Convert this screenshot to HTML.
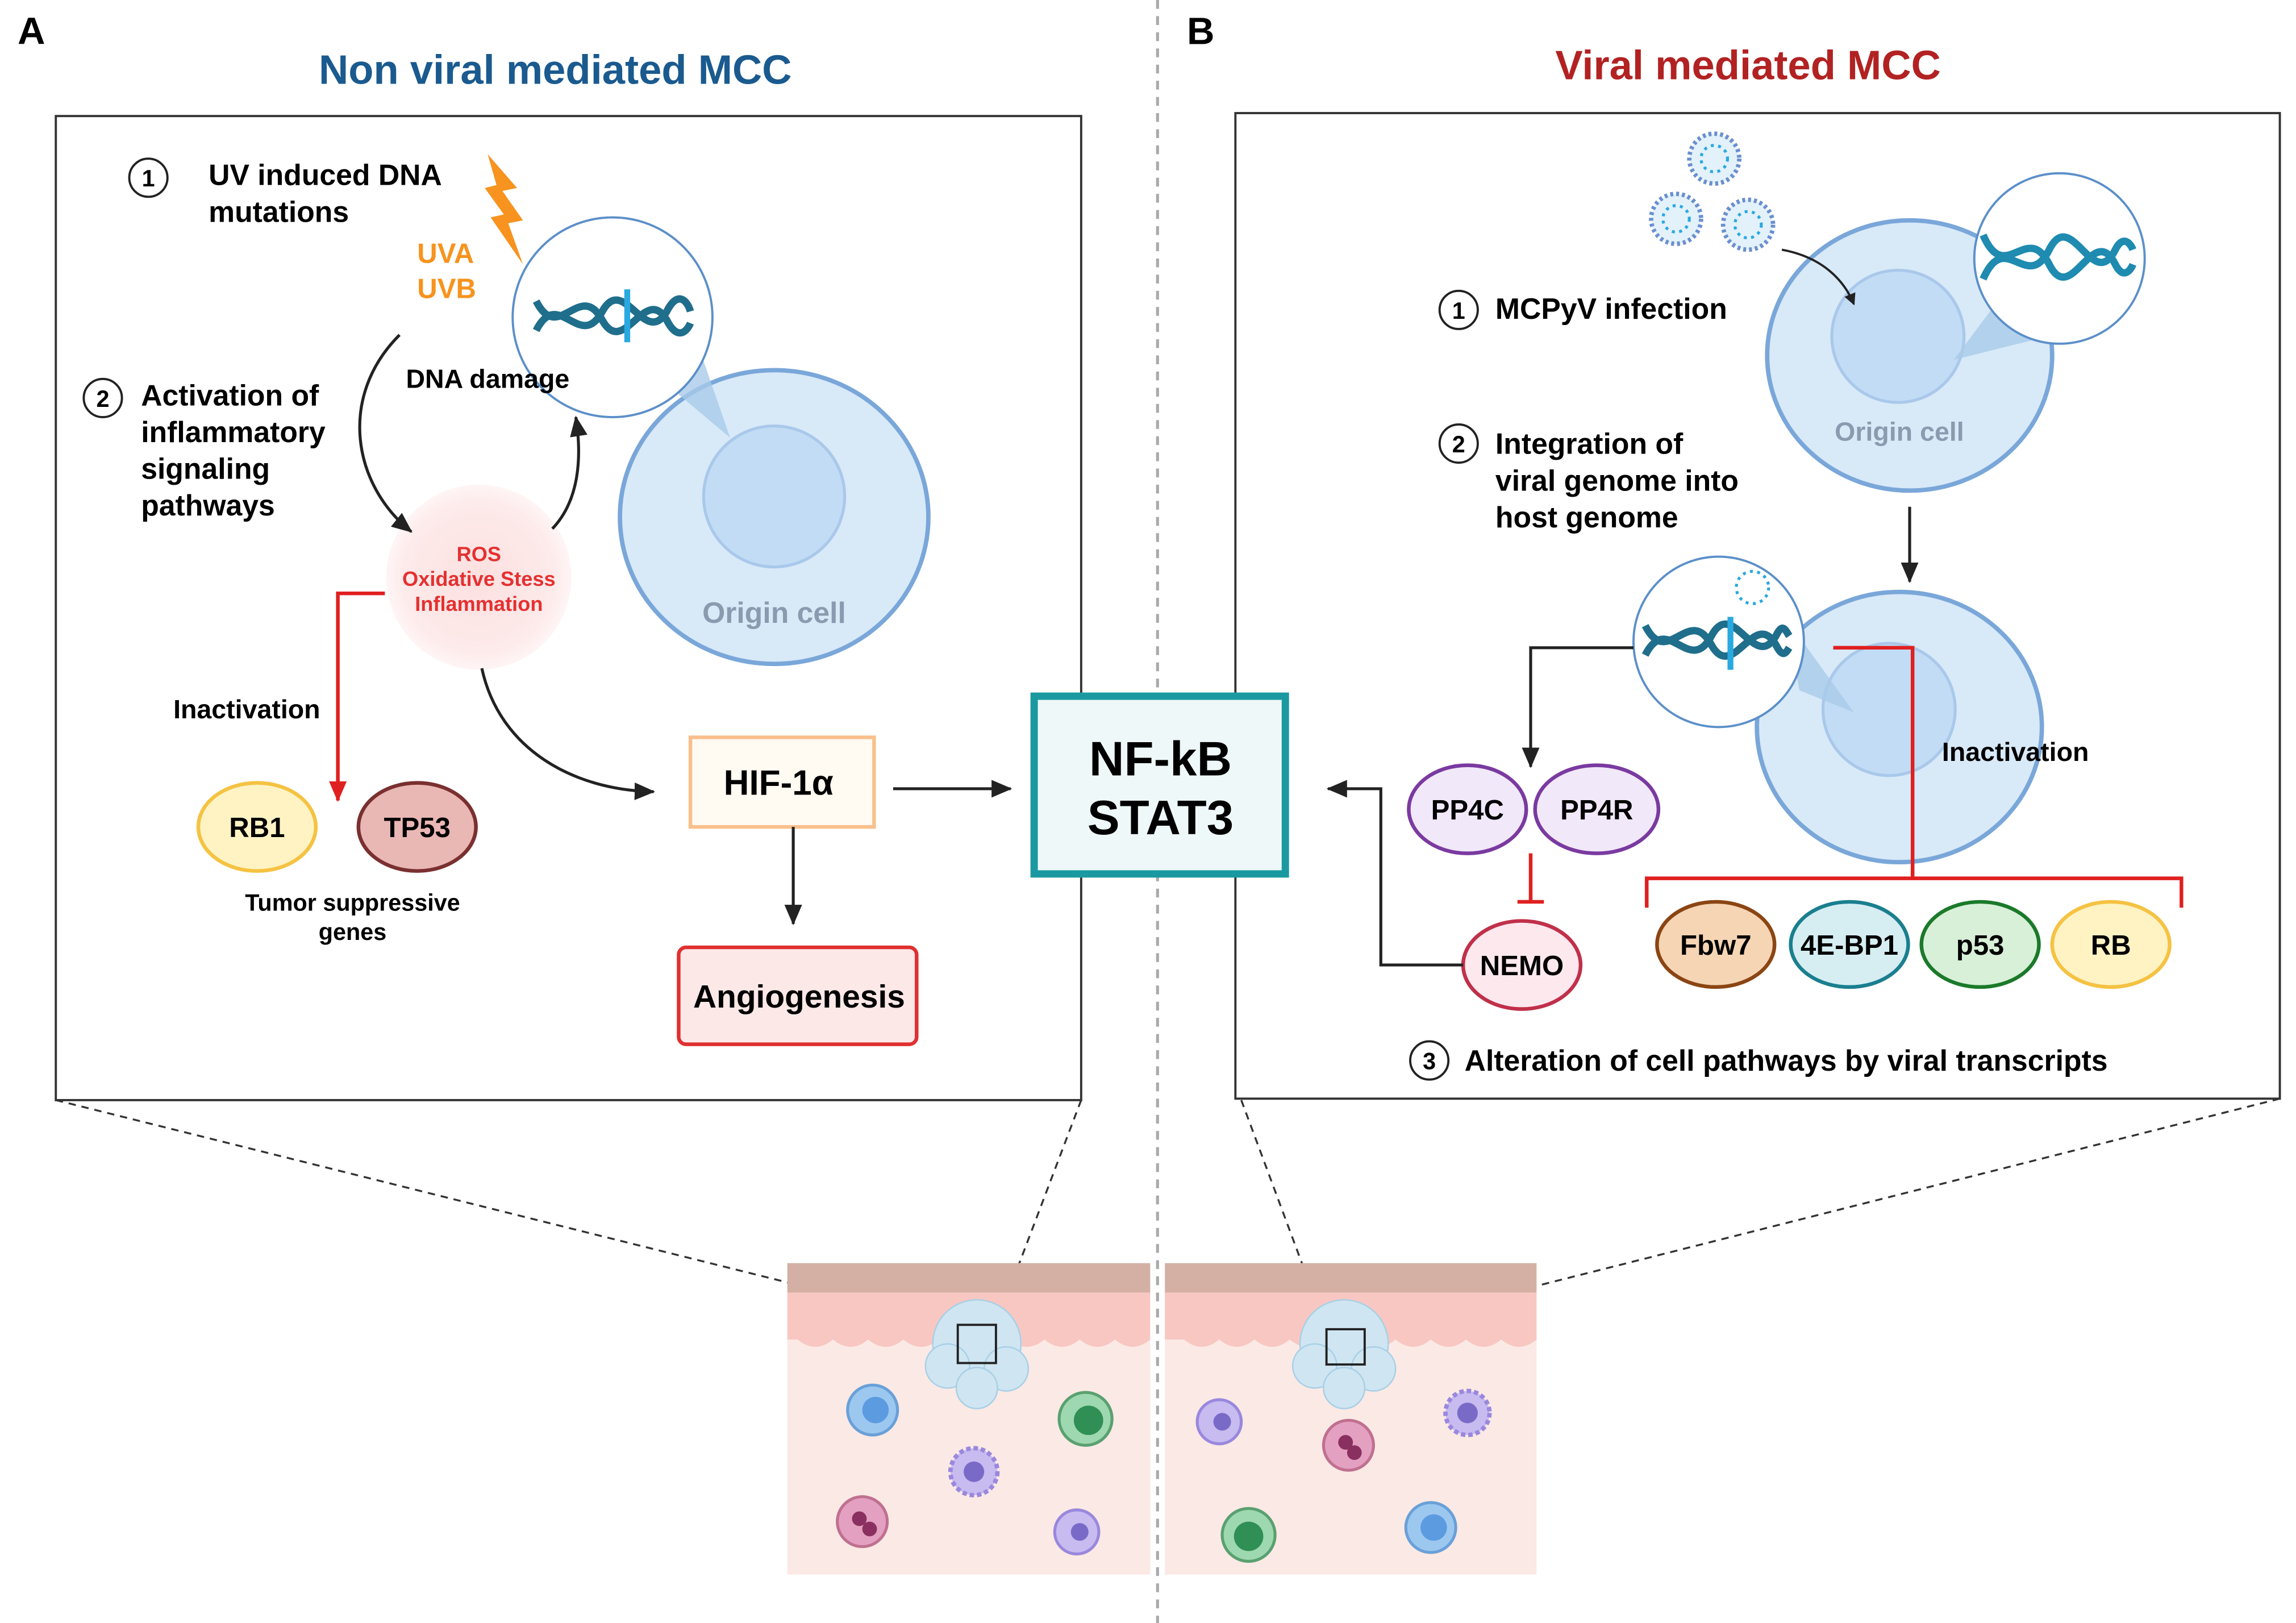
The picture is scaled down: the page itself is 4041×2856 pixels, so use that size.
<!DOCTYPE html>
<html><head><meta charset="utf-8"><style>
html,body{margin:0;padding:0;background:#fff;}
svg{display:block;}
text{font-family:"Liberation Sans",sans-serif;font-weight:bold;}
</style></head><body>
<svg width="4041" height="2856" viewBox="0 0 1563 1105" preserveAspectRatio="none" xmlns="http://www.w3.org/2000/svg">
<defs>
<marker id="ab" markerWidth="8" markerHeight="8" refX="7" refY="4" orient="auto" markerUnits="userSpaceOnUse"><path d="M0,0 L8,4 L0,8 z" fill="#222"/></marker>
<marker id="ab2" markerWidth="14" markerHeight="12" refX="13" refY="6" orient="auto" markerUnits="userSpaceOnUse"><path d="M0,0 L14,6 L0,12 z" fill="#222"/></marker>
<marker id="ar" markerWidth="14" markerHeight="12" refX="13" refY="6" orient="auto" markerUnits="userSpaceOnUse"><path d="M0,0 L14,6 L0,12 z" fill="#e02020"/></marker>
<radialGradient id="ros"><stop offset="0" stop-color="#fde0e0"/><stop offset="0.8" stop-color="#fdeaea"/><stop offset="1" stop-color="#fff5f5"/></radialGradient>
</defs>
<rect width="1563" height="1105" fill="#fff"/>
<line x1="788" y1="0" x2="788" y2="1105" stroke="#aaa" stroke-width="2" stroke-dasharray="6,5"/>
<text x="12" y="30" font-size="26">A</text>
<text x="808" y="30" font-size="26">B</text>
<text x="378" y="57" font-size="28" fill="#1a5a8f" text-anchor="middle">Non viral mediated MCC</text>
<text x="1190" y="54" font-size="28" fill="#b22222" text-anchor="middle">Viral mediated MCC</text>
<rect x="38" y="79" width="698" height="670" fill="none" stroke="#333" stroke-width="1.5"/>
<rect x="841" y="77" width="711" height="671" fill="none" stroke="#333" stroke-width="1.5"/>

<!-- Left panel -->
<circle cx="101" cy="121" r="13" fill="none" stroke="#222" stroke-width="1.5"/><text x="101" y="127" font-size="16" text-anchor="middle" font-weight="normal">1</text>
<text x="142" y="126" font-size="20">UV induced DNA</text>
<text x="142" y="151" font-size="20">mutations</text>
<path d="M332,105 L352,128 L342,130 L356,150 L346,152 L356,180 L334,148 L343,146 L330,128 L338,126 z" fill="#f7931e"/>
<text x="284" y="179" font-size="19" fill="#f7931e">UVA</text>
<text x="284" y="203" font-size="19" fill="#f7931e">UVB</text>
<ellipse cx="527" cy="352" rx="105" ry="100" fill="#d8e9f8" stroke="#7aa7d9" stroke-width="3"/>
<circle cx="527" cy="338" r="48" fill="#c2dcf5" stroke="#a9c8ea" stroke-width="2"/>
<path d="M440,250 L497,298 L470,220 z" fill="#a9cbe8" opacity="0.8"/>
<circle cx="417" cy="216" r="68" fill="#fff" stroke="#5b8fc9" stroke-width="1.5"/>
<path d="M365,225 C380,195 395,240 410,212 C425,185 440,240 455,210 C462,198 468,205 470,212" fill="none" stroke="#1f6e8c" stroke-width="5"/>
<path d="M365,205 C380,235 395,190 410,218 C425,245 440,190 455,220 C462,232 468,225 470,220" fill="none" stroke="#1f6e8c" stroke-width="5"/>
<line x1="427" y1="197" x2="427" y2="233" stroke="#29a9e0" stroke-width="4"/>
<text x="527" y="424" font-size="20" fill="#8a9bb0" text-anchor="middle">Origin cell</text>
<text x="332" y="264" font-size="18" text-anchor="middle">DNA damage</text>
<circle cx="70" cy="271" r="13" fill="none" stroke="#222" stroke-width="1.5"/><text x="70" y="277" font-size="16" text-anchor="middle" font-weight="normal">2</text>
<text x="96" y="276" font-size="20">Activation of</text>
<text x="96" y="301" font-size="20">inflammatory</text>
<text x="96" y="326" font-size="20">signaling</text>
<text x="96" y="351" font-size="20">pathways</text>
<circle cx="326" cy="393" r="63" fill="url(#ros)"/>
<text x="326" y="382" font-size="14" fill="#e53030" text-anchor="middle">ROS</text>
<text x="326" y="399" font-size="14" fill="#e53030" text-anchor="middle">Oxidative Stess</text>
<text x="326" y="416" font-size="14" fill="#e53030" text-anchor="middle">Inflammation</text>
<path d="M272,228 C230,270 240,330 280,362" fill="none" stroke="#222" stroke-width="2" marker-end="url(#ab2)"/>
<path d="M376,360 C395,340 396,310 392,284" fill="none" stroke="#222" stroke-width="2" marker-end="url(#ab2)"/>
<polyline points="262,404 230,404 230,545" fill="none" stroke="#e02020" stroke-width="2.5" marker-end="url(#ar)"/>
<text x="168" y="489" font-size="18" text-anchor="middle">Inactivation</text>
<ellipse cx="175" cy="563" rx="40" ry="30" fill="#fff3c4" stroke="#f5c242" stroke-width="2.5"/>
<text x="175" y="570" font-size="19" text-anchor="middle">RB1</text>
<ellipse cx="284" cy="563" rx="40" ry="30" fill="#e9b7b4" stroke="#7a3030" stroke-width="2.5"/>
<text x="284" y="570" font-size="19" text-anchor="middle">TP53</text>
<text x="240" y="620" font-size="16" text-anchor="middle">Tumor suppressive</text>
<text x="240" y="640" font-size="16" text-anchor="middle">genes</text>
<path d="M328,455 C340,510 390,538 445,539" fill="none" stroke="#222" stroke-width="2" marker-end="url(#ab2)"/>
<rect x="470" y="502" width="125" height="61" fill="#fffaf2" stroke="#f9c08c" stroke-width="2.5"/>
<text x="530" y="541" font-size="24" text-anchor="middle">HIF-1α</text>
<line x1="608" y1="537" x2="688" y2="537" stroke="#222" stroke-width="2" marker-end="url(#ab2)"/>
<line x1="540" y1="563" x2="540" y2="629" stroke="#222" stroke-width="2" marker-end="url(#ab2)"/>
<rect x="462" y="645" width="162" height="66" rx="5" fill="#fde8e8" stroke="#e03030" stroke-width="2.5"/>
<text x="544" y="686" font-size="22" text-anchor="middle">Angiogenesis</text>

<!-- center -->
<rect x="704" y="474" width="171" height="121" fill="#eef8f8" stroke="#1a9aa0" stroke-width="5"/>
<text x="790" y="528" font-size="33" text-anchor="middle">NF-kB</text>
<text x="790" y="568" font-size="33" text-anchor="middle">STAT3</text>

<!-- Right panel -->
<g fill="#e3f1fa" stroke="#6a8fd0" stroke-width="3" stroke-dasharray="2,2">
<circle cx="1167" cy="108" r="17"/><circle cx="1141" cy="149" r="17"/><circle cx="1190" cy="153" r="17"/></g>
<g fill="none" stroke="#29a9e0" stroke-width="2" stroke-dasharray="2,3">
<circle cx="1167" cy="108" r="9"/><circle cx="1141" cy="149" r="9"/><circle cx="1190" cy="153" r="9"/></g>
<ellipse cx="1300" cy="242" rx="97" ry="92" fill="#d8e9f8" stroke="#7aa7d9" stroke-width="3"/>
<circle cx="1292" cy="229" r="45" fill="#c2dcf5" stroke="#a9c8ea" stroke-width="2"/>
<path d="M1213,170 C1240,175 1255,190 1262,207" fill="none" stroke="#222" stroke-width="1.5" marker-end="url(#ab)"/>
<path d="M1330,245 L1360,205 L1390,230 z" fill="#a9cbe8" opacity="0.8"/>
<circle cx="1402" cy="176" r="58" fill="#fff" stroke="#5b8fc9" stroke-width="1.5"/>
<path d="M1350,190 C1365,155 1380,200 1395,170 C1410,140 1425,200 1440,170 C1445,160 1450,165 1452,170" fill="none" stroke="#1f8bb0" stroke-width="5"/>
<path d="M1350,160 C1365,195 1380,150 1395,180 C1410,210 1425,150 1440,180 C1445,190 1450,185 1452,180" fill="none" stroke="#1f8bb0" stroke-width="5"/>
<text x="1293" y="300" font-size="18" fill="#8a9bb0" text-anchor="middle">Origin cell</text>
<circle cx="993" cy="211" r="13" fill="none" stroke="#222" stroke-width="1.5"/><text x="993" y="217" font-size="16" text-anchor="middle" font-weight="normal">1</text>
<text x="1018" y="217" font-size="20">MCPyV infection</text>
<circle cx="993" cy="302" r="13" fill="none" stroke="#222" stroke-width="1.5"/><text x="993" y="308" font-size="16" text-anchor="middle" font-weight="normal">2</text>
<text x="1018" y="309" font-size="20">Integration of</text>
<text x="1018" y="334" font-size="20">viral genome into</text>
<text x="1018" y="359" font-size="20">host genome</text>
<line x1="1300" y1="345" x2="1300" y2="396" stroke="#222" stroke-width="2" marker-end="url(#ab2)"/>
<ellipse cx="1293" cy="495" rx="97" ry="92" fill="#d8e9f8" stroke="#7aa7d9" stroke-width="3"/>
<circle cx="1286" cy="483" r="45" fill="#c2dcf5" stroke="#a9c8ea" stroke-width="2"/>
<path d="M1215,420 L1262,485 L1225,470 z" fill="#a9cbe8" opacity="0.8"/>
<circle cx="1170" cy="437" r="58" fill="#fff" stroke="#5b8fc9" stroke-width="1.5"/>
<path d="M1120,446 C1135,416 1150,461 1165,433 C1180,405 1195,461 1210,431 C1214,424 1216,430 1218,433" fill="none" stroke="#1f6e8c" stroke-width="5"/>
<path d="M1120,426 C1135,456 1150,411 1165,439 C1180,466 1195,411 1210,441 C1214,448 1216,444 1218,441" fill="none" stroke="#1f6e8c" stroke-width="5"/>
<line x1="1178" y1="420" x2="1178" y2="456" stroke="#29a9e0" stroke-width="4"/>
<circle cx="1193" cy="400" r="11" fill="none" stroke="#29a9e0" stroke-width="2" stroke-dasharray="2,3"/>
<text x="1372" y="518" font-size="18" text-anchor="middle">Inactivation</text>
<polyline points="1248,441 1302,441 1302,598" fill="none" stroke="#e02020" stroke-width="2.5"/>
<polyline points="1121,618 1121,598 1485,598 1485,618" fill="none" stroke="#e02020" stroke-width="2.5"/>
<ellipse cx="1168" cy="643" rx="40" ry="29" fill="#f6d5b5" stroke="#8b4513" stroke-width="2.5"/>
<text x="1168" y="650" font-size="19" text-anchor="middle">Fbw7</text>
<ellipse cx="1259" cy="643" rx="40" ry="29" fill="#d6eef2" stroke="#1a7f8f" stroke-width="2.5"/>
<text x="1259" y="650" font-size="19" text-anchor="middle">4E-BP1</text>
<ellipse cx="1348" cy="643" rx="40" ry="29" fill="#d8f0d8" stroke="#1b7a2a" stroke-width="2.5"/>
<text x="1348" y="650" font-size="19" text-anchor="middle">p53</text>
<ellipse cx="1437" cy="643" rx="40" ry="29" fill="#fff3c4" stroke="#f5c242" stroke-width="2.5"/>
<text x="1437" y="650" font-size="19" text-anchor="middle">RB</text>
<polyline points="1112,441 1042,441 1042,522" fill="none" stroke="#222" stroke-width="2" marker-end="url(#ab2)"/>
<ellipse cx="999" cy="551" rx="40" ry="30" fill="#f1e8fa" stroke="#7a3aa0" stroke-width="2.5"/>
<text x="999" y="558" font-size="19" text-anchor="middle">PP4C</text>
<ellipse cx="1087" cy="551" rx="42" ry="30" fill="#f1e8fa" stroke="#7a3aa0" stroke-width="2.5"/>
<text x="1087" y="558" font-size="19" text-anchor="middle">PP4R</text>
<line x1="1042" y1="581" x2="1042" y2="614" stroke="#e02020" stroke-width="2.5"/>
<line x1="1033" y1="614" x2="1051" y2="614" stroke="#e02020" stroke-width="2.5"/>
<ellipse cx="1036" cy="657" rx="40" ry="30" fill="#fde8ee" stroke="#c0304a" stroke-width="2.5"/>
<text x="1036" y="664" font-size="19" text-anchor="middle">NEMO</text>
<polyline points="996,657 940,657 940,537 904,537" fill="none" stroke="#222" stroke-width="2" marker-end="url(#ab2)"/>
<circle cx="973" cy="722" r="13" fill="none" stroke="#222" stroke-width="1.5"/><text x="973" y="728" font-size="16" text-anchor="middle" font-weight="normal">3</text>
<text x="997" y="729" font-size="20">Alteration of cell pathways by viral transcripts</text>

<!-- dashed zoom lines -->
<g stroke="#333" stroke-width="1.3" stroke-dasharray="5,4" fill="none">
<line x1="38" y1="749" x2="652" y2="902"/>
<line x1="736" y1="749" x2="678" y2="902"/>
<line x1="845" y1="749" x2="903" y2="905"/>
<line x1="1552" y1="748" x2="929" y2="905"/>
</g>

<!-- skin panels -->
<g>
<rect x="536" y="860" width="247" height="212" fill="#fbe9e5"/>
<rect x="536" y="860" width="247" height="20" fill="#d4b0a4"/>
<path d="M536,880 H783 V912 Q771,922 759,912 Q747,922 735,912 Q723,922 711,912 Q699,922 687,912 Q675,922 663,912 Q651,922 639,912 Q627,922 615,912 Q603,922 591,912 Q579,922 567,912 Q555,922 543,912 L536,912 z" fill="#f8c7c2"/>
<rect x="793" y="860" width="253" height="212" fill="#fbe9e5"/>
<rect x="793" y="860" width="253" height="20" fill="#d4b0a4"/>
<path d="M793,880 H1046 V912 Q1034,922 1022,912 Q1010,922 998,912 Q986,922 974,912 Q962,922 950,912 Q938,922 926,912 Q914,922 902,912 Q890,922 878,912 Q866,922 854,912 Q842,922 830,912 Q818,922 806,912 L793,912 z" fill="#f8c7c2"/>
</g>
<g fill="#cfe6f2" stroke="#a9d0e6" stroke-width="1">
<circle cx="665" cy="915" r="30"/><circle cx="645" cy="930" r="15"/><circle cx="685" cy="932" r="15"/><circle cx="665" cy="945" r="14"/>
<circle cx="915" cy="915" r="30"/><circle cx="895" cy="930" r="15"/><circle cx="935" cy="932" r="15"/><circle cx="915" cy="945" r="14"/>
</g>
<rect x="652" y="902" width="26" height="26" fill="none" stroke="#222" stroke-width="1.5"/>
<rect x="903" y="905" width="26" height="24" fill="none" stroke="#222" stroke-width="1.5"/>
<!-- immune cells -->
<circle cx="594" cy="960" r="17" fill="#9cc8f0" stroke="#6aa0d8" stroke-width="2"/><circle cx="596" cy="960" r="9" fill="#5c9be0"/>
<circle cx="739" cy="966" r="18" fill="#9ed8b0" stroke="#5aa070" stroke-width="2"/><circle cx="741" cy="967" r="10" fill="#2f8f55"/>
<circle cx="663" cy="1002" r="16" fill="#c7bbf0" stroke="#9988dd" stroke-width="3" stroke-dasharray="3,2"/><circle cx="663" cy="1002" r="7" fill="#7a6ac8"/>
<circle cx="587" cy="1036" r="17" fill="#e4a0c0" stroke="#c07090" stroke-width="2"/><circle cx="585" cy="1034" r="5" fill="#8a3060"/><circle cx="592" cy="1041" r="5" fill="#8a3060"/>
<circle cx="733" cy="1043" r="15" fill="#c7bbf0" stroke="#9988dd" stroke-width="2"/><circle cx="735" cy="1043" r="6" fill="#7a6ac8"/>
<circle cx="830" cy="968" r="15" fill="#c7bbf0" stroke="#9988dd" stroke-width="2"/><circle cx="832" cy="968" r="6" fill="#7a6ac8"/>
<circle cx="918" cy="984" r="17" fill="#e4a0c0" stroke="#c07090" stroke-width="2"/><circle cx="916" cy="982" r="5" fill="#8a3060"/><circle cx="922" cy="989" r="5" fill="#8a3060"/>
<circle cx="999" cy="962" r="15" fill="#c7bbf0" stroke="#9988dd" stroke-width="3" stroke-dasharray="3,2"/><circle cx="999" cy="962" r="7" fill="#7a6ac8"/>
<circle cx="850" cy="1045" r="18" fill="#9ed8b0" stroke="#5aa070" stroke-width="2"/><circle cx="850" cy="1046" r="10" fill="#2f8f55"/>
<circle cx="974" cy="1040" r="17" fill="#9cc8f0" stroke="#6aa0d8" stroke-width="2"/><circle cx="976" cy="1040" r="9" fill="#5c9be0"/>
</svg>
</body></html>
